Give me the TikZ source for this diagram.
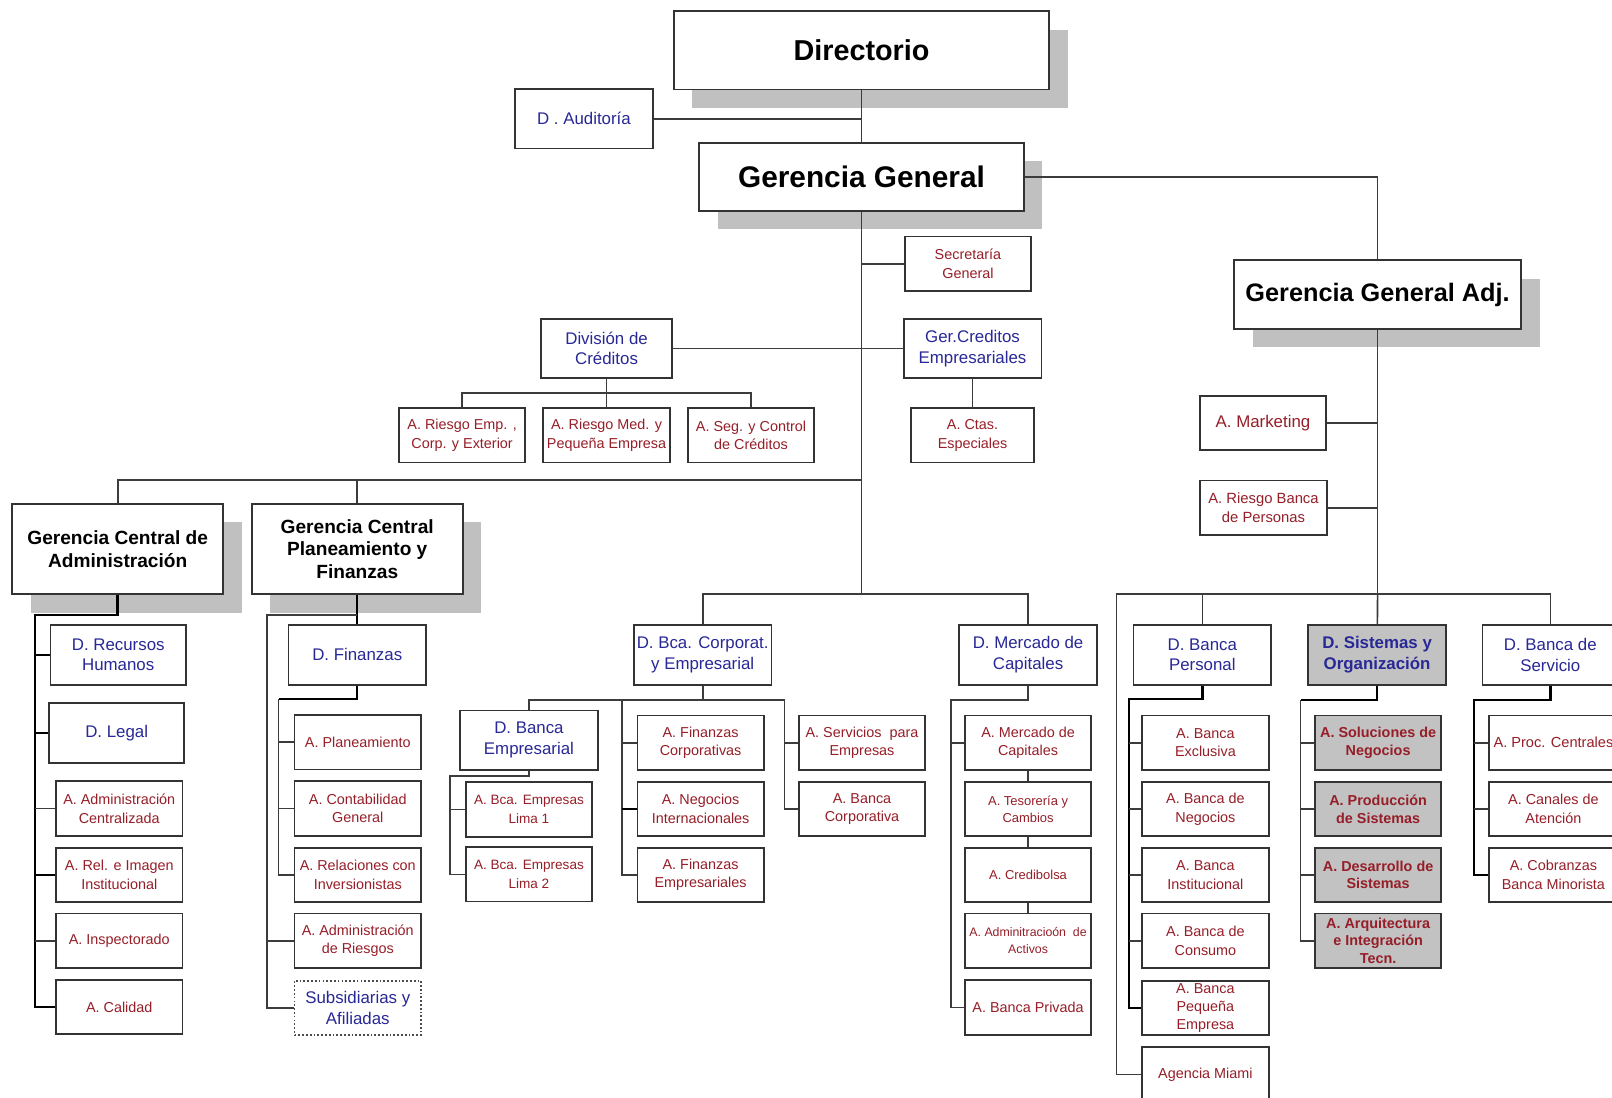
\documentclass[tikz,border=0pt]{standalone}
\usepackage{fontspec}
\setmainfont{Liberation Sans}
\usetikzlibrary{shadows}
\definecolor{deptblue}{RGB}{40,40,150}
\definecolor{areared}{RGB}{150,30,40}
\definecolor{shadegray}{RGB}{192,192,192}
\definecolor{boxgray}{RGB}{194,194,194}
\definecolor{linegray}{RGB}{60,60,60}
\tikzset{
  unit/.style={draw=black!80, line width=0.85pt, fill=white, align=center, inner sep=0.5pt},
  shadowed/.style={general shadow={fill=shadegray, draw=none, shadow xshift=9pt, shadow yshift=-9pt}},
  topbox/.style={unit, shadowed, font=\bfseries\fontsize{14}{16}\selectfont, minimum width=182.5pt, minimum height=38pt},
  gcbox/.style={unit, shadowed, font=\bfseries\fontsize{9.3}{11}\selectfont, minimum width=102.5pt, minimum height=44pt},
  dbox/.style={unit, text=deptblue, font=\fontsize{8.2}{10}\selectfont, minimum width=67pt, minimum height=29pt},
  abox/.style={unit, text=areared, font=\fontsize{7}{9}\selectfont, minimum width=61.5pt, minimum height=26.5pt},
  sysbox/.style={abox, fill=boxgray, font=\bfseries\fontsize{7}{8.5}\selectfont},
  link/.style={draw=linegray, line width=0.8pt},
  boldlink/.style={draw=black, line width=1.2pt}
}
\begin{document}
\begin{tikzpicture}[x=0.5pt, y=-0.5pt]
  \useasboundingbox (0,0) rectangle (1568,1068);
  % top of the chart
  \draw
    (838,49) node[topbox] (dir){Directorio}
    (838,172) node[topbox, font=\bfseries\fontsize{14.5}{16}\selectfont, minimum width=158pt, minimum height=33pt] (gg){Gerencia General}
    (1340,286.5) node[topbox, font=\bfseries\fontsize{12.3}{14}\selectfont, minimum width=139.5pt, minimum height=33.5pt] (gga){Gerencia General Adj.}
    (114.5,534) node[gcbox] (gca){Gerencia Central de\\Administración}
    (347.5,534) node[gcbox] (gcpf){Gerencia Central\\Planeamiento y\\Finanzas}
    (568,115.5) node[dbox] (aud){D . Auditoría}
    (941.5,256.5) node[abox] (sec){Secretaría\\General}
    (590,339) node[dbox, minimum width=64pt] (dcr){División de\\Créditos}
    (946,339) node[dbox] (gce){Ger.Creditos\\Empresariales}
    (449.5,423.5) node[abox] (are){A. Riesgo Emp. ,\\Corp. y Exterior}
    (590,423.5) node[abox] (arm){A. Riesgo Med. y\\Pequeña Empresa}
    (730.5,423.5) node[abox] (asc){A. Seg. y Control\\de Créditos}
    (946,423.5) node[abox, minimum width=60pt] (ace){A. Ctas.\\Especiales}
    (1228.5,411.5) node[abox, font=\fontsize{8.2}{10}\selectfont] (amk){A. Marketing}
    (1229,494) node[abox, font=\fontsize{7.2}{9}\selectfont] (arb){A. Riesgo Banca\\de Personas};
  % administracion y finanzas
  \draw
    (115,637) node[dbox, minimum width=66pt] (drh){D. Recursos\\Humanos}
    (113.5,713) node[dbox, minimum width=65.5pt] (dle){D. Legal}
    (116,786.5) node[abox] (aac){A. Administración\\Centralizada}
    (116,851) node[abox] (rii){A. Rel. e Imagen\\Institucional}
    (116,915) node[abox] (ins){A. Inspectorado}
    (116,979.5) node[abox] (cal){A. Calidad}
    (347.5,637) node[dbox] (dfi){D. Finanzas}
    (348,722) node[abox] (apl){A. Planeamiento}
    (348,786.5) node[abox] (acg){A. Contabilidad\\General}
    (348,851) node[abox] (arl){A. Relaciones con\\Inversionistas}
    (348,915) node[abox] (adr){A. Administración\\de Riesgos}
    (348,980.5) node[abox, draw=black!70, densely dotted, text=deptblue, font=\fontsize{8.2}{10}\selectfont] (sub){Subsidiarias y\\Afiliadas};
  % banca corporativa y mercado de capitales
  \draw
    (683.5,637) node[dbox] (dbc){D. Bca. Corporat.\\y Empresarial}
    (514.5,720) node[dbox] (dbe){D. Banca\\Empresarial}
    (514.5,787.5) node[abox, font=\fontsize{6.6}{9}\selectfont] (ab1){A. Bca. Empresas\\Lima 1}
    (514.5,850.5) node[abox, font=\fontsize{6.6}{9}\selectfont] (ab2){A. Bca. Empresas\\Lima 2}
    (681.5,722.5) node[abox] (afc){A. Finanzas\\Corporativas}
    (681.5,787) node[abox] (ani){A. Negocios\\Internacionales}
    (681.5,851) node[abox] (afe){A. Finanzas\\Empresariales}
    (838.5,722.5) node[abox] (ase){A. Servicios~~para\\Empresas}
    (838.5,787) node[abox] (abc){A. Banca\\Corporativa}
    (1000,637) node[dbox] (dmc){D. Mercado de\\Capitales}
    (1000,722.5) node[abox] (amc){A. Mercado de\\Capitales}
    (1000,787) node[abox, font=\fontsize{6.3}{8.5}\selectfont] (ate){A. Tesorería y\\Cambios}
    (1000,851) node[abox, font=\fontsize{6.3}{8.5}\selectfont] (acr){A. Credibolsa}
    (1000,915) node[abox, font=\fontsize{6}{8}\selectfont] (aad){A. Adminitracioón~~de\\Activos}
    (1000,980) node[abox] (abp){A. Banca Privada};
  % gerencia general adjunta
  \draw
    (1169.5,637) node[dbox] (dbp){D. Banca\\Personal}
    (1172.5,722.5) node[abox] (abe){A. Banca\\Exclusiva}
    (1172.5,787) node[abox] (abn){A. Banca de\\Negocios}
    (1172.5,851) node[abox] (abi){A. Banca\\Institucional}
    (1172.5,915) node[abox] (abk){A. Banca de\\Consumo}
    (1172.5,980.5) node[abox, font=\fontsize{7}{8.7}\selectfont] (ape){A. Banca\\Pequeña\\Empresa}
    (1172.5,1045) node[abox] (ami){Agencia Miami}
    (1339.5,637) node[dbox, fill=boxgray, font=\bfseries\fontsize{8.2}{10}\selectfont] (dso){D. Sistemas y\\Organización}
    (1340.5,722.5) node[sysbox] (asn){A. Soluciones de\\Negocios}
    (1340.5,787) node[sysbox] (aps){A. Producción\\de Sistemas}
    (1340.5,851) node[sysbox] (ads){A. Desarrollo de\\Sistemas}
    (1340.5,915) node[sysbox] (aat){A. Arquitectura\\e Integración\\Tecn.}
    (1508,637) node[dbox, minimum width=66pt] (dbs){D. Banca de\\Servicio}
    (1511,722.5) node[abox, minimum width=63pt, font=\fontsize{7.1}{9}\selectfont] (apc){A. Proc. Centrales}
    (1511,787) node[abox, minimum width=63pt] (aca){A. Canales de\\Atención}
    (1511,851) node[abox, minimum width=63pt] (acb){A. Cobranzas\\Banca Minorista};
  \begin{scope}[link]
    \coordinate (j1) at (838,467);
    \coordinate (j2) at (838,578);
    \coordinate (dc1) at (590,382);
    \coordinate (ga) at (34,598);
    \coordinate (gp) at (260,598);
    \coordinate (fp) at (271,680);
    \coordinate (cb) at (683.5,681);
    \coordinate (cl) at (605,681);
    \coordinate (cr) at (763,681);
    \coordinate (be) at (438,755);
    \coordinate (mc) at (925,681);
    \coordinate (ra) at (1340,578);
    \coordinate (rm) at (1086,578);
    \coordinate (bp) at (1098,680);
    \coordinate (so) at (1265,681);
    \coordinate (sv) at (1434,681);
    \draw (dir) to (gg);
    \draw (aud) to (aud -| gg);
    \draw (gg) -| (gga);
    \draw (gg) to (j2);
    \draw (sec) to (sec -| gg);
    \draw (dcr) to (gce);
    \draw (dcr) to (arm);
    \draw (are) |- (dc1) -| (asc);
    \draw (gce) to (ace);
    \draw (gca) |- (j1);
    \draw (gcpf) to (gcpf |- j1);
    \draw (dbc) |- (j2) -| (dmc);
    \draw[boldlink] (gca) |- (ga) -- (ga |- cal) -- (cal);
    \draw[boldlink] (ga |- drh) to (drh);
    \draw[boldlink] (ga |- dle) to (dle);
    \draw (ga |- aac) to (aac);
    \draw[boldlink] (ga |- rii) to (rii);
    \draw (ga |- ins) to (ins);
    \draw[boldlink] (gcpf) to (dfi);
    \draw (gcpf.south |- gp) -- (gp) -- (gp |- sub) -- (sub);
    \draw (gp |- adr) to (adr);
    \draw[boldlink] (dfi) |- (fp);
    \draw (fp) -- (fp |- arl) -- (arl);
    \draw (fp |- apl) to (apl);
    \draw (fp |- acg) to (acg);
    \draw (dbc) to (cb);
    \draw (dbe) |- (cr) -- (cr |- abc) -- (abc);
    \draw (cl) -- (cl |- afe) -- (afe);
    \draw (cl |- afc) to (afc);
    \draw[boldlink] (cl |- ani) to (ani);
    \draw (cr |- ase) to (ase);
    \draw (dbe) |- (be) -- (be |- ab2) -- (ab2);
    \draw (be |- ab1) to (ab1);
    \draw (dmc) |- (mc) -- (mc |- abp) -- (abp);
    \draw (mc |- amc) to (amc);
    \draw (amc) to (ate);
    \draw (ate) to (acr);
    \draw (acr) to (aad);
    \draw (gga) to (ra);
    \draw (amk) to (amk -| gga);
    \draw (arb) to (arb -| gga);
    \draw (ra) to (dso);
    \draw (ami) -| (rm) -| (dbs);
    \draw (dbp) to (dbp |- ra);
    \draw[boldlink] (dbp) |- (bp) -- (bp |- ape) -- (ape);
    \draw (bp |- abe) to (abe);
    \draw (bp |- abn) to (abn);
    \draw (bp |- abi) to (abi);
    \draw (bp |- abk) to (abk);
    \draw[boldlink] (dso) |- (so);
    \draw (so) -- (so |- aat) -- (aat);
    \draw (so |- asn) to (asn);
    \draw (so |- aps) to (aps);
    \draw (so |- ads) to (ads);
    \draw[boldlink] (dbs) |- (sv) -- (sv |- acb) -- (acb);
    \draw (sv |- apc) to (apc);
    \draw (sv |- aca) to (aca);
  \end{scope}
\end{tikzpicture}
\end{document}
